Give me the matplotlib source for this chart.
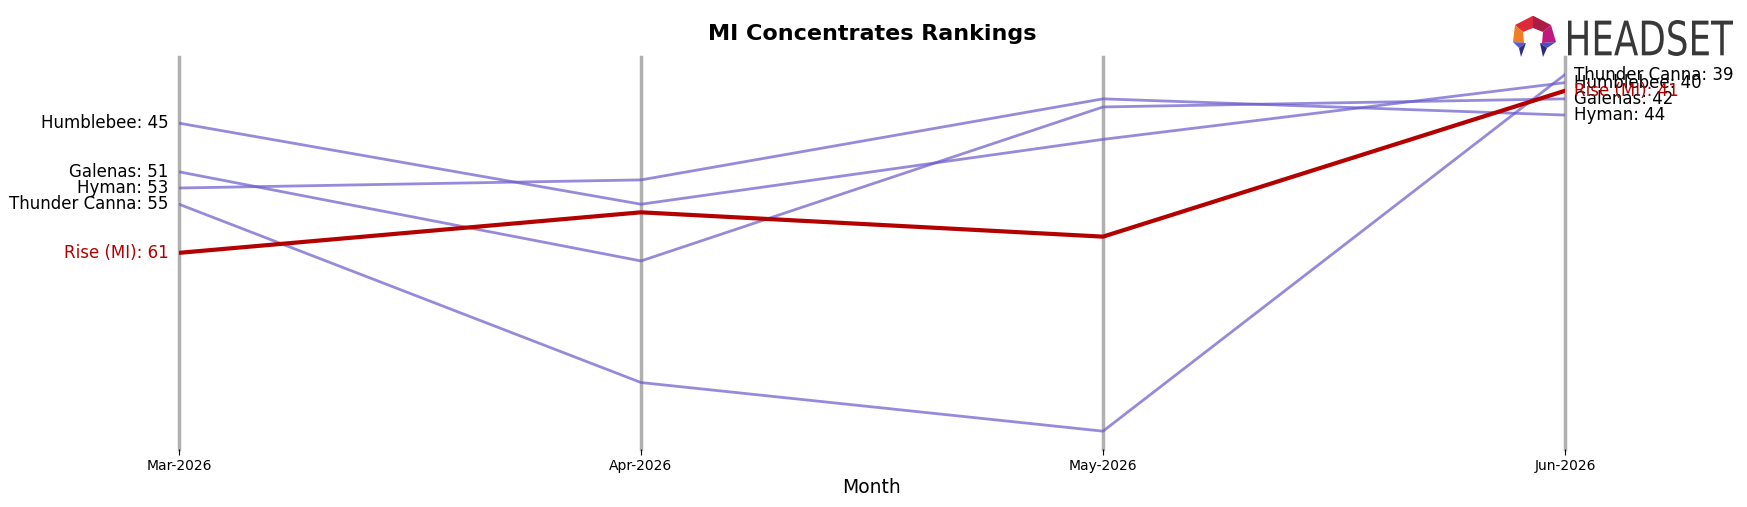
import matplotlib
matplotlib.use('Agg')
import matplotlib.pyplot as plt
import numpy as np
from matplotlib.patches import Polygon, PathPatch
from matplotlib.textpath import TextPath
from matplotlib.transforms import Affine2D

months = ['Mar-2026', 'Apr-2026', 'May-2026', 'Jun-2026']
brands = ['Humblebee', 'Galenas', 'Hyman', 'Thunder Canna', 'Rise (MI)']
humblebee = [45, 55, 47, 40]
galenas = [51, 62, 43, 42]
hyman = [53, 52, 42, 44]
thunder_canna = [55, 77, 83, 39]
rise = [61, 56, 59, 41]
ranks = [humblebee, galenas, hyman, thunder_canna, rise]

highlight = 'Rise (MI)'
purple = '#6A5ACD'
red = '#b30000'

W, H = 1747, 507
fig = plt.figure(figsize=(W / 100, H / 100), dpi=100)
ax = fig.add_axes([179 / W, 58 / H, (1565 - 179) / W, (449 - 56.7) / H])

x = np.arange(len(months))
for brand, r in zip(brands, ranks):
    if brand == highlight:
        ax.plot(x, r, color=red, lw=3, zorder=4)
        col = red
    else:
        ax.plot(x, r, color=purple, lw=2, alpha=0.7, zorder=3)
        col = 'black'
    ax.text(x[0] - 0.022, r[0], f'{brand}: {r[0]}', ha='right', va='center', fontsize=12, color=col)
    ax.text(x[-1] + 0.02, r[-1], f'{brand}: {r[-1]}', ha='left', va='center', fontsize=12, color=col)

ax.invert_yaxis()
ax.set_xlim(x[0], x[-1])
ax.set_xticks(x)
ax.set_xticklabels(months, fontsize=10)
ax.set_yticks([])
ax.tick_params(axis='x', length=4, pad=3)
for xi in x:
    ax.axvline(xi, color='#b0b0b0', lw=2.5, zorder=1, clip_on=False)
for s in ax.spines.values():
    s.set_visible(False)
ax.set_xlabel('Month', fontsize=13.5, labelpad=4)
ax.set_title('MI Concentrates Rankings', fontsize=16, fontweight='bold', pad=12)

# --- logo (drawn in pixel units of the figure) ---
lax = fig.add_axes([1508 / W, 1 - 58 / H, 230 / W, 42 / H])
lax.set_xlim(1508, 1738)
lax.set_ylim(58, 16)
lax.axis('off')

pieces = [
    ([(1515, 25), (1533, 15.7), (1533, 28), (1523, 32)], '#dc2a3a'),
    ([(1533, 15.7), (1551, 25), (1543, 32), (1533, 28)], '#a81c45'),
    ([(1515, 25), (1523, 32), (1524, 43), (1513, 42)], '#f07d22'),
    ([(1551, 25), (1543, 32), (1542, 43), (1556, 42)], '#c0187f'),
    ([(1513, 42), (1526, 43), (1519, 48)], '#5a5bd0'),
    ([(1519, 48), (1526, 43), (1521, 57)], '#2e2f8a'),
    ([(1540, 43), (1556, 42), (1547, 48)], '#4c4fc4'),
    ([(1540, 43), (1547, 48), (1543, 57)], '#262a80'),
]
for verts, c in pieces:
    lax.add_patch(Polygon(verts, closed=True, color=c, lw=0))

tp = TextPath((0, 0), 'HEADSET', size=10, prop={'family': 'DejaVu Sans'})
ext = tp.get_extents()
tr = Affine2D().translate(-ext.x0, -ext.y0).scale(165 / ext.width, -36 / ext.height).translate(1568, 56)
lax.add_patch(PathPatch(tr.transform_path(tp), color='#383838', lw=0))

fig.savefig('out.png', dpi=100)
